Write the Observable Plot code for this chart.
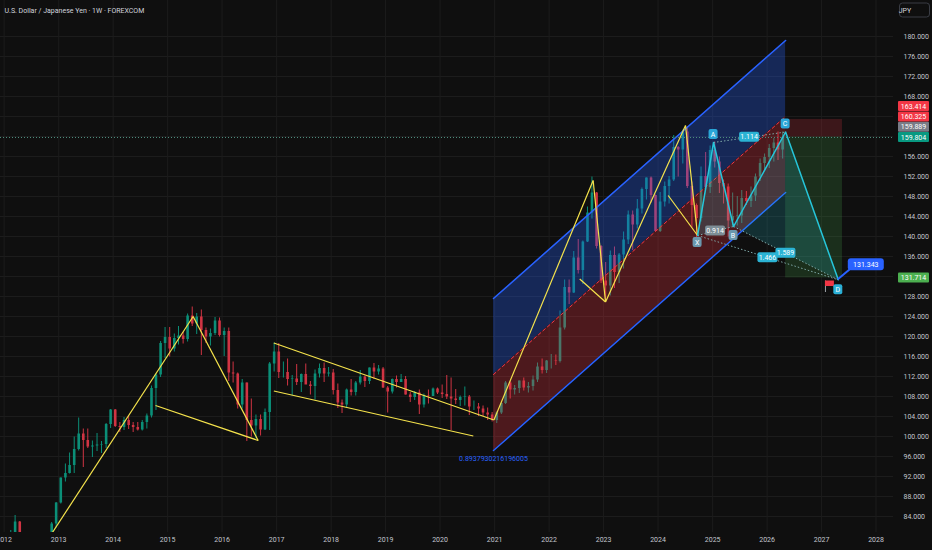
<!DOCTYPE html>
<html>
<head>
<meta charset="utf-8">
<script src="https://cdn.jsdelivr.net/npm/d3@7"></script>
<script src="https://cdn.jsdelivr.net/npm/@observablehq/plot@0.6"></script>
<style>
html, body { margin:0; padding:0; background:#0f0f0f; overflow:hidden; }
#chart svg { display:block; }
</style>
</head>
<body>
<div id="chart"></div>
<script>
// ---------- DATA (monthly candles, USD/JPY, starting Jan 2012) ----------
const firstYear = 2012;
const candleOpen = [
 76.9, 76.2, 80.7, 82.9, 80.0, 78.3, 79.8, 78.1, 78.4, 77.9, 79.8, 82.5,
 86.7, 91.7, 92.6, 94.2, 97.4, 100.5, 99.2, 97.9, 98.1, 98.3, 98.4, 102.4,
 105.3, 102.0, 101.8, 103.2, 102.2, 101.8, 101.3, 102.8, 104.1, 109.6, 112.3, 118.6,
 119.8, 117.5, 119.6, 120.1, 119.4, 124.1, 122.5, 123.9, 121.2, 119.9, 120.6, 123.1,
 120.2, 121.0, 112.7, 112.5, 106.3, 110.7, 103.2, 102.1, 103.4, 101.3, 104.8, 114.5,
 116.9, 112.8, 112.8, 111.4, 111.5, 110.8, 112.4, 110.3, 110.0, 112.5, 113.6, 112.5,
 112.7, 109.2, 106.7, 106.3, 109.3, 108.8, 110.7, 111.9, 111.0, 113.7, 112.9, 113.5,
 109.7, 108.9, 111.4, 110.8, 111.4, 108.3, 107.8, 108.7, 106.3, 108.1, 108.0, 109.5,
 108.7, 108.4, 107.9, 107.5, 107.2, 107.8, 107.9, 105.9, 105.9, 105.5, 104.7, 104.3,
 103.2, 104.7, 106.6, 110.7, 109.3, 109.6, 111.1, 109.7, 110.0, 111.3, 113.9, 113.2,
 115.1, 115.1, 115.0, 121.7, 129.8, 128.7, 135.7, 133.2, 138.9, 144.7, 148.7, 138.0,
 131.1, 130.1, 136.2, 132.8, 136.3, 139.3, 144.3, 142.3, 145.5, 149.4, 151.7, 148.2,
 141.0, 146.9, 150.0, 151.3, 157.8, 157.3, 160.9, 150.0, 146.2, 143.6, 152.0, 149.8,
 157.2, 154.9, 150.6, 149.9, 143.1, 144.0, 144.1, 147.6, 147.0, 148.1, 151.9, 154.6,
 155.8, 157.6, 158.7, 157.3
];
const candleHigh = [
 78.3, 81.2, 84.2, 83.0, 80.6, 80.6, 79.9, 79.6, 78.8, 80.4, 82.8, 86.8,
 91.7, 94.5, 96.7, 99.9, 103.7, 101.5, 101.5, 99.1, 100.6, 99.0, 102.6, 105.4,
 105.4, 102.8, 103.8, 104.1, 102.8, 102.8, 103.2, 104.5, 110.1, 112.5, 119.0, 121.8,
 121.8, 120.5, 122.0, 120.8, 124.5, 125.9, 124.6, 125.3, 121.7, 121.5, 123.8, 123.7,
 121.7, 121.7, 114.9, 112.7, 111.4, 110.7, 107.5, 104.3, 104.3, 105.5, 114.8, 118.7,
 118.6, 114.9, 115.5, 112.2, 114.4, 112.5, 114.5, 111.0, 113.3, 114.5, 114.7, 113.8,
 113.4, 110.5, 107.3, 109.5, 111.4, 111.0, 113.2, 112.1, 113.7, 114.6, 114.2, 113.8,
 110.0, 111.5, 112.1, 112.4, 112.0, 108.8, 109.0, 109.3, 108.5, 109.3, 109.7, 109.7,
 110.3, 112.2, 111.7, 109.4, 108.1, 109.9, 108.2, 107.1, 106.6, 106.1, 105.7, 104.8,
 104.9, 106.7, 111.0, 110.96, 110.2, 111.1, 111.7, 110.8, 112.1, 114.7, 115.5, 115.2,
 116.4, 116.3, 125.1, 131.3, 131.3, 137.0, 139.4, 139.1, 145.9, 151.9, 148.8, 138.2,
 134.8, 137.1, 137.9, 136.6, 140.9, 145.1, 145.1, 147.4, 149.7, 151.7, 151.9, 148.3,
 148.8, 150.9, 152.0, 160.2, 158.0, 161.3, 162.0, 150.9, 146.5, 153.9, 156.8, 158.1,
 158.9, 155.9, 151.3, 150.5, 148.7, 148.0, 149.2, 149.0, 149.9, 152.5, 155.5, 156.5,
 158.4, 159.6, 160.9, 160.9
];
const candleLow = [
 76.0, 76.1, 80.6, 79.6, 77.6, 77.7, 77.9, 77.9, 77.1, 77.8, 79.1, 81.7,
 86.5, 90.9, 92.5, 92.6, 97.1, 93.8, 97.6, 95.8, 97.0, 96.6, 97.6, 101.6,
 101.8, 100.8, 101.2, 101.4, 100.8, 101.1, 101.1, 101.5, 103.7, 105.2, 111.8, 115.6,
 115.9, 116.9, 118.3, 118.5, 118.9, 122.0, 120.4, 116.2, 118.6, 118.1, 120.2, 119.9,
 116.0, 111.0, 110.7, 105.5, 105.5, 99.0, 99.9, 99.5, 100.1, 101.2, 101.2, 112.9,
 111.6, 111.7, 110.1, 108.1, 110.2, 108.8, 110.6, 108.3, 107.3, 111.7, 110.8, 111.9,
 108.3, 105.6, 104.6, 105.7, 108.1, 108.1, 110.3, 109.8, 110.4, 111.4, 112.3, 109.6,
 104.7, 108.5, 109.7, 110.8, 108.3, 106.8, 107.2, 104.4, 105.7, 106.5, 108.2, 108.4,
 107.6, 107.4, 101.2, 106.4, 106.0, 106.1, 104.2, 105.2, 104.0, 104.0, 103.2, 102.9,
 102.6, 104.4, 106.4, 107.5, 108.3, 108.6, 109.1, 108.7, 109.1, 110.8, 112.5, 112.6,
 113.5, 114.2, 114.7, 121.3, 126.4, 128.6, 132.5, 130.4, 138.8, 143.5, 137.5, 130.6,
 127.2, 128.1, 129.6, 130.6, 133.5, 138.4, 137.2, 141.5, 144.5, 147.3, 146.7, 141.0,
 140.8, 145.9, 146.5, 151.0, 151.9, 154.5, 149.6, 141.7, 139.6, 142.9, 149.3, 148.6,
 153.7, 148.6, 146.5, 139.9, 142.1, 142.1, 142.6, 146.2, 145.8, 147.0, 151.0, 153.0,
 153.6, 154.9, 155.2, 155.5
];
const candleClose = [
 76.2, 80.7, 82.9, 80.0, 78.3, 79.8, 78.1, 78.4, 77.9, 79.8, 82.5, 86.7,
 91.7, 92.6, 94.2, 97.4, 100.5, 99.2, 97.9, 98.1, 98.3, 98.4, 102.4, 105.3,
 102.0, 101.8, 103.2, 102.2, 101.8, 101.3, 102.8, 104.1, 109.6, 112.3, 118.6, 119.8,
 117.5, 119.6, 120.1, 119.4, 124.1, 122.5, 123.9, 121.2, 119.9, 120.6, 123.1, 120.2,
 121.0, 112.7, 112.5, 106.3, 110.7, 103.2, 102.1, 103.4, 101.3, 104.8, 114.5, 116.9,
 112.8, 112.8, 111.4, 111.5, 110.8, 112.4, 110.3, 110.0, 112.5, 113.6, 112.5, 112.7,
 109.2, 106.7, 106.3, 109.3, 108.8, 110.7, 111.9, 111.0, 113.7, 112.9, 113.5, 109.7,
 108.9, 111.4, 110.8, 111.4, 108.3, 107.8, 108.7, 106.3, 108.1, 108.0, 109.5, 108.7,
 108.4, 107.9, 107.5, 107.2, 107.8, 107.9, 105.9, 105.9, 105.5, 104.7, 104.3, 103.2,
 104.7, 106.6, 110.7, 109.3, 109.6, 111.1, 109.7, 110.0, 111.3, 113.9, 113.2, 115.1,
 115.1, 115.0, 121.7, 129.8, 128.7, 135.7, 133.2, 138.9, 144.7, 148.7, 138.0, 131.1,
 130.1, 136.2, 132.8, 136.3, 139.3, 144.3, 142.3, 145.5, 149.4, 151.7, 148.2, 141.0,
 146.9, 150.0, 151.3, 157.8, 157.3, 160.9, 150.0, 146.2, 143.6, 152.0, 149.8, 157.2,
 154.9, 150.6, 149.9, 143.1, 144.0, 144.1, 147.6, 147.0, 148.1, 151.9, 154.6, 155.8,
 157.6, 158.7, 157.3, 159.8
];

// axis ticks
const yearLabels = [2012,2013,2014,2015,2016,2017,2018,2019,2020,2021,2022,2023,2024,2025,2026,2027,2028];
const priceTicks = [84,88,92,96,100,104,108,112,116,120,124,128,132,136,140,144,148,152,156,160,164,168,172,176,180];
// tick labels hidden behind the price badges in the reference
const hiddenTickLabels = [132, 160, 164];

// yellow trend lines (drawn segments)
const yellowFromDate  = ["2012-11-18","2015-06-21","2014-10-12","2016-12-13","2016-12-13","2020-12-27","2022-10-23","2022-07-25","2023-01-14","2024-07-03","2024-03-09"];
const yellowFromValue = [80.7, 124.0, 106.2, 118.7, 109.1, 103.3, 151.2, 131.5, 126.9, 162.2, 148.2];
const yellowToDate    = ["2015-06-21","2016-08-30","2016-08-30","2020-12-27","2020-08-11","2022-10-23","2023-01-14","2023-01-14","2024-07-03","2024-09-22","2024-09-22"];
const yellowToValue   = [124.0, 99.2, 99.2, 103.3, 100.1, 151.2, 126.9, 126.9, 162.2, 140.2, 140.2];

// parallel channel
const channelDates  = ["2020-12-24","2026-05-05"];
const channelTop    = [127.6, 179.2];
const channelMid    = [112.4, 164.0];
const channelBottom = [97.2, 148.8];
const channelLabel  = "0.8937930216196005";

// short position tool
const positionDates = ["2026-05-05","2027-05-21"];
const positionStop = 163.414, positionEntry = 159.889, positionTarget = 131.714;
const lastPrice = 159.804;

// harmonic pattern
const harmLabels = ["X","A","B","C","D"];
const harmDates  = ["2024-09-22","2025-01-07","2025-05-21","2026-05-05","2027-04-23"];
const harmValues = [140.2, 158.8, 142.0, 160.9, 131.343];
const ratioFrom  = [0, 1, 0, 2];
const ratioTo    = [2, 3, 4, 4];
const ratioText  = ["0.914","1.114","1.466","1.589"];

// flag near D
const flagDates  = ["2027-01-27","2027-03-28"];
const flagValues = [131.1, 130.0];
const flagPoleLow = 128.8;

// right-scale price labels
const axisLabelValues = [163.414, 160.325, 159.889, 159.804, 131.714];
const axisLabelColors = ["#f23645","#f23645","#787b86","#089981","#4caf50"];

const titleText = "U.S. Dollar / Japanese Yen · 1W · FOREXCOM";

// ---------- BUILD ----------
const parse = s => new Date(s + "T00:00:00Z");
const green = "#0b8f78", red = "#d03443";
const candles = candleOpen.map((o, i) => ({
  date: new Date(Date.UTC(firstYear, i, 15)),
  open: o, high: candleHigh[i], low: candleLow[i], close: candleClose[i]
}));
const candleColor = d => d.close >= d.open ? green : red;

const yellow = yellowFromDate.map((d, i) => ({
  x1: parse(d), y1: yellowFromValue[i], x2: parse(yellowToDate[i]), y2: yellowToValue[i]
}));
const channel = channelDates.map((d, i) => ({
  date: parse(d), top: channelTop[i], mid: channelMid[i], bottom: channelBottom[i]
}));
const harm = harmLabels.map((l, i) => ({label: l, date: parse(harmDates[i]), value: harmValues[i]}));
const tris = [
  ...[0,1,2].map(i => ({...harm[i], tri: "XAB"})),
  ...[2,3,4].map(i => ({...harm[i], tri: "BCD"}))
];
const ratios = ratioFrom.map((a, i) => ({
  x1: harm[a].date, y1: harm[a].value, x2: harm[ratioTo[i]].date, y2: harm[ratioTo[i]].value, text: ratioText[i]
}));
const yearDates = yearLabels.map(y => new Date(Date.UTC(y, 0, 1)));
const labelTicks = priceTicks.filter(t => !hiddenTickLabels.includes(t));
const pos = [
  {x1: parse(positionDates[0]), x2: parse(positionDates[1]), y1: positionEntry, y2: positionStop, fill: "rgba(242,54,69,0.2)"},
  {x1: parse(positionDates[0]), x2: parse(positionDates[1]), y1: positionTarget, y2: positionEntry, fill: "rgba(76,175,80,0.2)"}
];

const chart = Plot.plot({
  width: 932, height: 550,
  marginLeft: 0, marginRight: 39, marginTop: 0, marginBottom: 18,
  style: {background: "#0f0f0f", color: "#c3c6ce", fontFamily: "Roboto, 'Noto Sans', sans-serif", fontSize: "7px"},
  x: {type: "utc", domain: [parse("2011-12-08"), parse("2028-04-27")], label: null},
  y: {domain: [80.8, 187.2], label: null},
  marks: [
    Plot.gridY(priceTicks, {stroke: "#1c1c1c", strokeOpacity: 1}),
    Plot.gridX(yearDates, {stroke: "#1c1c1c", strokeOpacity: 1}),
    // candles
    Plot.ruleX(candles, {x: "date", y1: "low", y2: "high", stroke: candleColor, strokeWidth: 1, clip: true}),
    Plot.ruleX(candles, {x: "date", y1: "open", y2: "close", stroke: candleColor, strokeWidth: 2.6, clip: true}),
    // channel fills
    Plot.areaY(channel, {x: "date", y1: "mid", y2: "top", fill: "rgba(41,98,255,0.3)", clip: true}),
    Plot.areaY(channel, {x: "date", y1: "bottom", y2: "mid", fill: "rgba(242,54,69,0.28)", clip: true}),
    Plot.line(channel, {x: "date", y: "top", stroke: "#2962ff", strokeWidth: 1.5, clip: true}),
    Plot.line(channel, {x: "date", y: "bottom", stroke: "#2962ff", strokeWidth: 1.5, clip: true}),
    Plot.line(channel, {x: "date", y: "mid", stroke: "#f23645", strokeWidth: 1, strokeDasharray: "3,3", clip: true}),
    Plot.text([channelLabel], {x: channel[0].date, y: channel[0].bottom, dy: 8, text: d => d, fill: "#2962ff", fontSize: 7, textAnchor: "middle"}),
    // position tool
    Plot.rect(pos, {x1: "x1", x2: "x2", y1: "y1", y2: "y2", fill: "fill"}),
    Plot.ruleY([lastPrice], {stroke: "#4f8f80", strokeDasharray: "1,2", strokeWidth: 1}),
    // yellow drawings
    Plot.link(yellow, {x1: "x1", y1: "y1", x2: "x2", y2: "y2", stroke: "#f5e34c", strokeWidth: 1.2, clip: true}),
    // harmonic
    Plot.line(tris, {x: "date", y: "value", z: "tri", curve: "linear-closed", fill: "rgba(38,198,218,0.18)", stroke: null}),
    Plot.link(ratios, {x1: "x1", y1: "y1", x2: "x2", y2: "y2", stroke: "#7fa8a8", strokeDasharray: "1.5,2", strokeWidth: 1}),
    Plot.line(harm, {x: "date", y: "value", stroke: "#26c6da", strokeWidth: 1.5}),
    // flag
    Plot.ruleX([0], {x: parse(flagDates[0]), y1: flagPoleLow, y2: flagValues[0], stroke: "#9aa0a6", strokeWidth: 1}),
    Plot.rect([0], {x1: parse(flagDates[0]), x2: parse(flagDates[1]), y1: flagValues[1], y2: flagValues[0], fill: "#f23645"}),
    // title
    Plot.text([titleText], {frameAnchor: "top-left", dx: 4, dy: 10, text: d => d, fill: "#d1d4dc", fontSize: 7, textAnchor: "start", lineAnchor: "middle"}),
    // axes
    Plot.axisX({ticks: yearDates, tickFormat: d3.utcFormat("%Y"), tickSize: 0, tickPadding: 5, fontSize: 7, label: null}),
    Plot.axisY({anchor: "right", ticks: labelTicks, tickFormat: d => d.toFixed(3), tickSize: 0, tickPadding: 10, fontSize: 7, label: null})
  ]
});
document.getElementById("chart").appendChild(chart);

// ---------- label badges placed through the plot's scales ----------
const sx = chart.scale("x"), sy = chart.scale("y");
const svg = d3.select(chart);
const layer = svg.append("g").attr("font-family", "Roboto, 'Noto Sans', sans-serif").attr("font-size", 7);
function badge(cx, cy, text, bg, w, h, fg = "#ffffff", rx = 2) {
  const g = layer.append("g");
  g.append("rect").attr("x", cx - w / 2).attr("y", cy - h / 2).attr("width", w).attr("height", h)
    .attr("rx", rx).attr("fill", bg);
  g.append("text").attr("x", cx).attr("y", cy).attr("dy", "0.36em").attr("text-anchor", "middle")
    .attr("fill", fg).text(text);
}
// ratio badges
ratios.forEach((r, i) => {
  const cx = (sx.apply(r.x1) + sx.apply(r.x2)) / 2;
  const cy = (sy.apply(r.y1) + sy.apply(r.y2)) / 2;
  badge(cx, cy, r.text, i === 0 ? "#7d8d96" : "#2bb3d4", 20, 10);
});
// point letters
const letterOffset = {X: 7, A: -8, B: 9, C: -8, D: 10};
const letterColor = {X: "#6a97ad", A: "#2aa6d8", B: "#6a97ad", C: "#2aa6d8", D: "#2ab0d6"};
harm.forEach(p => {
  badge(sx.apply(p.date), sy.apply(p.value) + letterOffset[p.label], p.label, letterColor[p.label], 9, 10);
});
// D target label with connector
{
  const dx = sx.apply(harm[4].date), dy = sy.apply(harm[4].value);
  layer.append("line").attr("x1", dx).attr("y1", dy).attr("x2", dx + 12).attr("y2", dy - 10)
    .attr("stroke", "#2962ff").attr("stroke-width", 2);
  badge(dx + 28, dy - 15, harm[4].value.toFixed(3), "#2962ff", 36, 12, "#ffffff", 3);
}
// right scale labels (stacked to avoid overlap, like the reference)
{
  const items = axisLabelValues.map((v, i) => ({v, c: axisLabelColors[i], y: sy.apply(v)}))
    .sort((a, b) => a.v - b.v);
  let prev = Infinity;
  items.forEach(it => {
    const y = Math.min(it.y, prev - 10.3);
    it.py = y; prev = y;
  });
  items.forEach(it => badge(913.5, it.py, it.v.toFixed(3), it.c, 31, 10, "#ffffff", 1));
}
// currency button
{
  const g = layer.append("g");
  g.append("rect").attr("x", 899.5).attr("y", 3).attr("width", 30).attr("height", 14).attr("rx", 3)
    .attr("fill", "none").attr("stroke", "#3a3d45");
  g.append("text").attr("x", 905).attr("y", 10).attr("dy", "0.36em").attr("fill", "#d1d4dc").text("JPY");
}
</script>
</body>
</html>
